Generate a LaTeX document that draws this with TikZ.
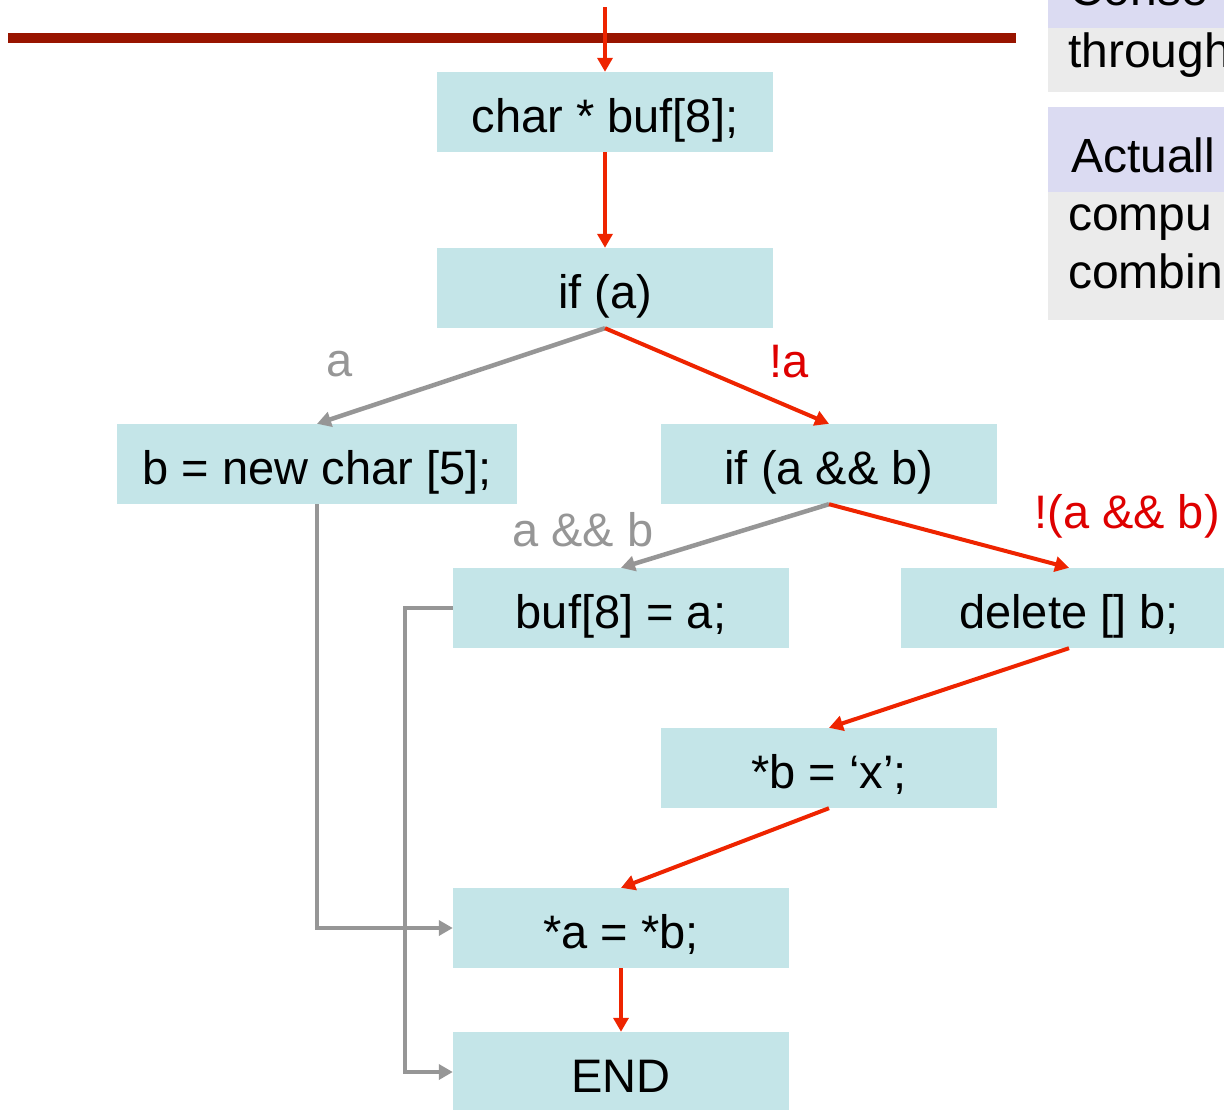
\documentclass[tikz,border=0pt]{standalone}
\usepackage{fontspec}
\setmainfont{Liberation Sans}
\usepackage{tikz}
\usetikzlibrary{arrows.meta, positioning, calc}
\definecolor{boxcyan}{RGB}{196,229,232}
\definecolor{flowred}{RGB}{238,36,0}
\definecolor{lblred}{RGB}{222,0,0}
\definecolor{flowgray}{RGB}{150,150,150}
\definecolor{barred}{RGB}{152,20,0}
\definecolor{notegray}{RGB}{235,235,235}
\definecolor{notehdr}{RGB}{219,219,242}
\tikzset{
  stmt/.style={rectangle, fill=boxcyan, minimum width=336pt,
    minimum height=80pt, inner sep=0pt, text height=40pt, text depth=0pt,
    font=\fontsize{47}{56}\selectfont},
  redarrow/.style={-{Triangle[width=15pt,length=14pt]}, line width=4pt, color=flowred},
  grayarrow/.style={-{Triangle[width=15pt,length=14pt]}, line width=4.5pt, color=flowgray},
  lbl/.style={inner sep=0pt, font=\fontsize{47}{56}\selectfont},
  notetext/.style={inner sep=0pt, anchor=base west, font=\fontsize{48}{56}\selectfont}
}

\begin{document}
\begin{tikzpicture}[x=1pt, y=-1pt]
  \useasboundingbox (0,0) rectangle (1224,1109);
  \clip (0,0) rectangle (1224,1109);

  % side notes
  \fill[notehdr] (1048,-20) rectangle (1240,28);
  \fill[notegray] (1048,28) rectangle (1240,92);
  \fill[notehdr] (1048,107) rectangle (1240,192);
  \fill[notegray] (1048,192) rectangle (1240,320);
  \node[notetext] (n1) at (1069,5) {Conse};
  \node[notetext] (n2) at (1068,67) {through};
  \node[notetext] (n3) at (1071,172) {Actuall};
  \node[notetext] (n4) at (1068,230) {compu};
  \node[notetext] (n5) at (1068,288) {combin};

  \draw[line width=10pt, barred] (8,38) -- (1016,38);

  % statements
  \node[stmt] (decl) at (605,112) {char * buf[8];};
  \node[stmt] (ifa) at (605,288) {if (a)};
  \node[stmt, minimum width=400pt] (newb) at (317,464) {b = new char [5];};
  \node[stmt] (ifab) at (829,464) {if (a \&\& b)};
  \node[stmt] (bufw) at (621,608) {buf[8] = a;};
  \node[stmt] (del) at (1069,608) {delete [] b;};
  \node[stmt] (wrb) at (829,768) {*b = `x';};
  \node[stmt] (copy) at (621,928) {*a = *b;};
  \node[stmt] (fin) at (621,1072) {END};

  % Paths
  \coordinate (entry) at (605,7);
  \draw[redarrow] (entry) -- (decl);
  \draw[redarrow] (decl) -- (ifa);
  \draw[grayarrow] (ifa.south) -- (newb.north);
  \node[lbl, flowgray] (isa) at (340,364) {a};
  \draw[redarrow] (ifa.south) -- (ifab.north);
  \node[lbl, lblred] (nota) at (789,362) {!a};
  \draw[grayarrow] (ifab.south) -- (bufw.north);
  \node[lbl, flowgray] (ab) at (583,530) {a \&\& b};
  \draw[redarrow] (ifab.south) -- (del.north);
  \node[lbl, lblred] (notab) at (1127,516) {!(a \&\& b)};
  \draw[redarrow] (del.south) -- (wrb.north);
  \draw[redarrow] (wrb.south) -- (copy.north);
  \draw[redarrow] (copy) -- (fin);

  % fall-through edges
  \draw[grayarrow] (newb.south) |- (copy.west);
  \draw[grayarrow] (bufw.west) -- ++(-48,0) |- (fin.west);
\end{tikzpicture}
\end{document}
